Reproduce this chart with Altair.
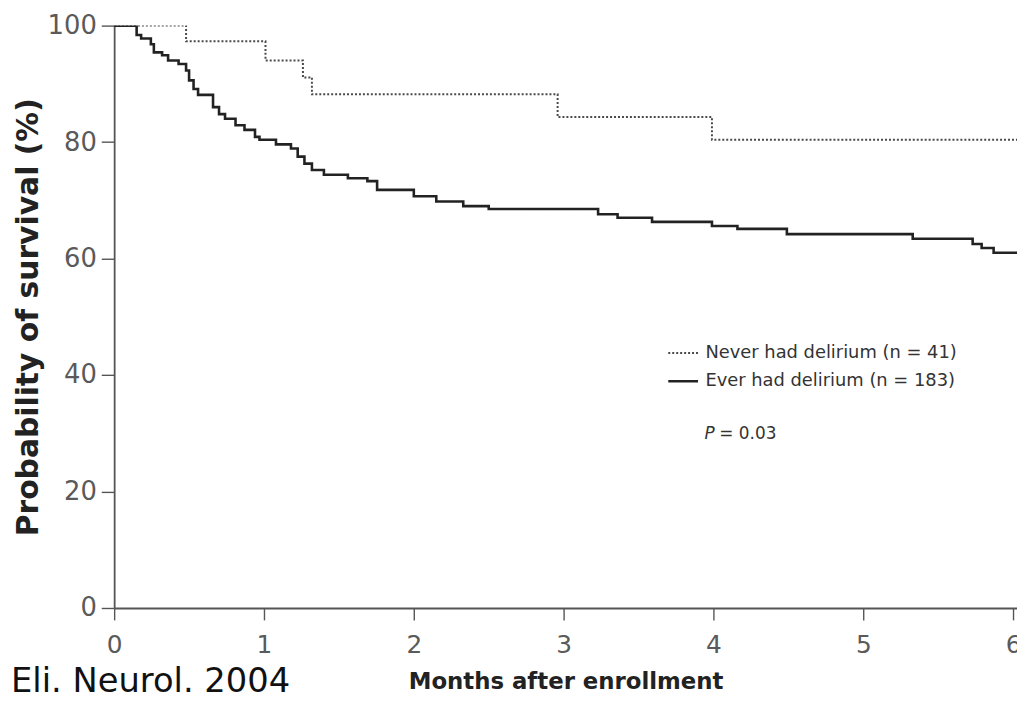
import altair as alt
import pandas as pd

# ---- data ----
never_label = "Never had delirium (n = 41)"
ever_label = "Ever had delirium (n = 183)"

never_t = [0, 0.48, 1.01, 1.26, 1.32, 2.96, 3.99, 6.03]
never_s = [100, 97.3, 94.0, 91.1, 88.2, 84.3, 80.4, 80.4]

ever_t = [0, 0.15, 0.18, 0.245, 0.265, 0.32, 0.36, 0.43, 0.48, 0.50, 0.53, 0.56,
          0.66, 0.70, 0.74, 0.81, 0.87, 0.94, 0.97, 1.08, 1.18, 1.225, 1.27, 1.32,
          1.40, 1.56, 1.69, 1.755, 2.0, 2.15, 2.33, 2.50, 3.23, 3.36, 3.59, 3.99,
          4.16, 4.49, 5.33, 5.73, 5.79, 5.87, 6.03]
ever_s = [100, 98.4, 97.8, 96.8, 95.4, 94.9, 94.0, 93.4, 92.3, 90.6, 89.1, 88.1,
          86.0, 84.8, 84.0, 82.9, 82.1, 80.9, 80.4, 79.6, 78.9, 77.5, 76.3, 75.2,
          74.4, 73.8, 73.3, 71.8, 70.7, 69.8, 69.0, 68.5, 67.6, 67.0, 66.3, 65.6,
          65.1, 64.2, 63.4, 62.5, 61.8, 61.0, 61.0]

x_ticks = [0, 1, 2, 3, 4, 5, 6]
y_ticks = [0, 20, 40, 60, 80, 100]
x_title = "Months after enrollment"
y_title = "Probability of survival (%)"
p_symbol = "P"
p_value = "= 0.03"
source_text = "Eli. Neurol. 2004"

rows = []
for t, s in zip(never_t, never_s):
    rows.append({"t": t, "s": s, "group": never_label})
for t, s in zip(ever_t, ever_s):
    rows.append({"t": t, "s": s, "group": ever_label})
df = pd.DataFrame(rows)

W = 910
H = 587
font = "DejaVu Sans"
label_col = "#5a5a5a"
axis_col = "#555555"

groups = [never_label, ever_label]

lines = alt.Chart(df).mark_line(interpolate="step-after", clip=True).encode(
    x=alt.X("t:Q",
            scale=alt.Scale(domain=[0, 6.026], nice=False, zero=False),
            axis=alt.Axis(values=x_ticks, title=x_title, grid=False,
                          tickSize=12, labelPadding=13, labelFontSize=25,
                          labelFont=font, labelColor=label_col,
                          domainColor=axis_col, tickColor=axis_col,
                          domainWidth=1.8, tickWidth=1.4,
                          titleFont=font, titleFontSize=23,
                          titleFontWeight="bold", titleColor="#222222",
                          titleY=81, titleBaseline="alphabetic",
                          labelFlush=False)),
    y=alt.Y("s:Q",
            scale=alt.Scale(domain=[0, 100], nice=False),
            axis=alt.Axis(values=y_ticks, title=y_title, grid=False,
                          tickSize=13, labelPadding=5, labelFontSize=26,
                          labelFont=font, labelColor=label_col,
                          domainColor=axis_col, tickColor=axis_col,
                          domainWidth=1.8, tickWidth=1.4,
                          titleFont=font, titleFontSize=30,
                          titleFontWeight="bold", titleColor="#222222",
                          titleX=-86, titleBaseline="middle",
                          titleAngle=-90)),
    color=alt.Color("group:N",
                    scale=alt.Scale(domain=groups, range=["#4a4a4a", "#222222"]),
                    legend=alt.Legend(title=None)),
    strokeDash=alt.StrokeDash("group:N",
                              scale=alt.Scale(domain=groups, range=[[2, 2], [1, 0]]),
                              legend=alt.Legend(title=None)),
    strokeWidth=alt.StrokeWidth("group:N",
                                scale=alt.Scale(domain=groups, range=[2.0, 2.6]),
                                legend=None),
    detail="group:N",
)

p_df = pd.DataFrame({"a": [p_symbol], "b": [p_value]})
p_sym = alt.Chart(p_df).mark_text(
    align="left", baseline="middle", fontSize=17, font=font,
    fontStyle="italic", color="#333333"
).encode(x=alt.value(595), y=alt.value(412), text="a:N")
p_val = alt.Chart(p_df).mark_text(
    align="left", baseline="middle", fontSize=17, font=font,
    color="#333333"
).encode(x=alt.value(610), y=alt.value(412), text="b:N")

src_df = pd.DataFrame({"txt": [source_text]})
src = alt.Chart(src_df).mark_text(
    align="left", baseline="alphabetic", fontSize=34, font="DejaVu Sans",
    color="#111111"
).encode(x=alt.value(-104), y=alt.value(672), text="txt:N")

chart = alt.layer(lines, p_sym, p_val, src).properties(
    width=W, height=H,
    autosize=alt.AutoSizeParams(type="none"),
    padding={"left": 107, "top": 15, "right": 0, "bottom": 90},
    background="white",
).configure_view(stroke=None).configure_legend(
    orient="none", legendX=557, legendY=314, padding=0,
    symbolType="stroke", symbolSize=900, symbolStrokeWidth=2,
    labelFont=font, labelFontSize=18, labelColor="#333333",
    labelOffset=6, rowPadding=3, labelLimit=400,
)

chart.save("out.html", embed_options={"renderer": "svg", "actions": False})
